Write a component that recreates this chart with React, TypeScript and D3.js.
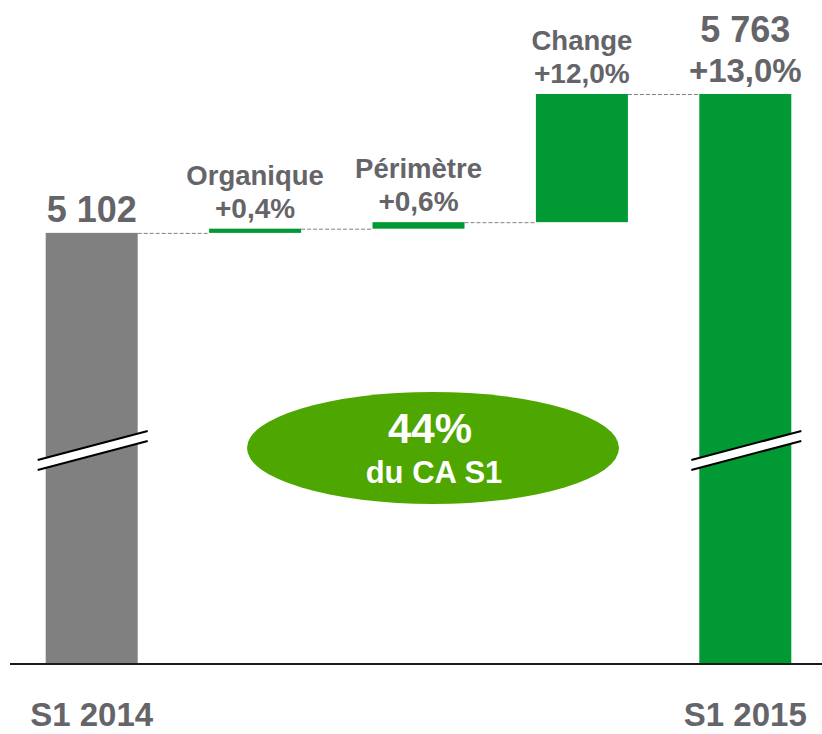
import React from "react";
import * as d3 from "d3";

const categories = ["S1 2014", "Organique", "Périmètre", "Change", "S1 2015"];
const startValue = 5102;
const deltas = [20, 31, 610];
const endValue = 5763;
const topLabels = ["Organique", "Périmètre", "Change"];
const pctLabels = ["+0,4%", "+0,6%", "+12,0%"];
const totalPct = "+13,0%";
const axisLabels = ["S1 2014", "S1 2015"];
const axisFloor = 3050;

const W = 822;
const H = 734;
const TEXT = "#646469";
const GREEN = "#009933";
const GRAY = "#808080";
const FONT = "'Liberation Sans', Arial, sans-serif";

export default function App() {
  const x = d3
    .scaleBand<string>()
    .domain(categories)
    .range([10, 827])
    .paddingInner(0.437)
    .paddingOuter(0.2185);
  const y = d3.scaleLinear().domain([axisFloor, endValue]).range([664, 94]);
  const bw = x.bandwidth();

  const steps: { cat: string; y0: number; y1: number }[] = [];
  let cum = startValue;
  deltas.forEach((d, i) => {
    steps.push({ cat: categories[i + 1], y0: cum, y1: cum + d });
    cum += d;
  });

  const bars = [
    { cat: categories[0], y0: axisFloor, y1: startValue, color: GRAY },
    ...steps.map((s) => ({ ...s, color: GREEN })),
    { cat: categories[4], y0: axisFloor, y1: endValue, color: GREEN },
  ];

  const connectors = bars.slice(0, -1).map((b, i) => ({
    x1: (x(b.cat) as number) + bw,
    x2: x(bars[i + 1].cat) as number,
    yv: b.y1,
  }));

  const breakMark = (cat: string) => {
    const cx = (x(cat) as number) + bw / 2;
    const x1 = cx - 54;
    const x2 = cx + 56;
    const yA1 = 460, yA2 = 431;
    const gap = 10;
    return (
      <g key={"br" + cat}>
        <polygon
          points={`${x1},${yA1} ${x2},${yA2} ${x2},${yA2 + gap} ${x1},${yA1 + gap}`}
          fill="#fff"
        />
        <line x1={x1} y1={yA1} x2={x2} y2={yA2} stroke="#000" strokeWidth={2} />
        <line x1={x1} y1={yA1 + gap} x2={x2} y2={yA2 + gap} stroke="#000" strokeWidth={2} />
      </g>
    );
  };

  const cxOf = (c: string) => (x(c) as number) + bw / 2;
  const fmt = (v: number) => d3.format(",")(v).replace(/,/g, " ");

  return (
    <svg
      width={W}
      height={H}
      style={{ position: "absolute", left: 0, top: 0, display: "block" }}
      fontFamily={FONT}
      fontWeight="bold"
    >
      <rect width={W} height={H} fill="#fff" />
      {bars.map((b) => (
        <rect
          key={b.cat}
          x={x(b.cat)}
          y={y(Math.max(b.y0, b.y1))}
          width={bw}
          height={Math.abs(y(b.y0) - y(b.y1))}
          fill={b.color}
        />
      ))}
      {connectors.map((c, i) => (
        <line
          key={i}
          x1={c.x1}
          x2={c.x2}
          y1={y(c.yv) + 0.5}
          y2={y(c.yv) + 0.5}
          stroke={GRAY}
          strokeWidth={1}
          strokeDasharray="4,2"
        />
      ))}
      {breakMark(categories[0])}
      {breakMark(categories[4])}
      <line x1={10} x2={822} y1={664} y2={664} stroke="#1a1a1a" strokeWidth={2} />

      <text x={cxOf(categories[0])} y={222} textAnchor="middle" fontSize={36} fill={TEXT}>
        {fmt(startValue)}
      </text>
      {steps.map((s, i) => (
        <g key={"lbl" + i}>
          <text
            x={cxOf(s.cat)}
            y={y(s.y1) - 44}
            textAnchor="middle"
            fontSize={27.5}
            fill={TEXT}
          >
            {topLabels[i]}
          </text>
          <text
            x={cxOf(s.cat)}
            y={y(s.y1) - 11}
            textAnchor="middle"
            fontSize={28}
            fill={TEXT}
          >
            {pctLabels[i]}
          </text>
        </g>
      ))}
      <text x={cxOf(categories[4])} y={42} textAnchor="middle" fontSize={36} fill={TEXT}>
        {fmt(endValue)}
      </text>
      <text x={cxOf(categories[4])} y={82} textAnchor="middle" fontSize={33} fill={TEXT}>
        {totalPct}
      </text>

      <text x={cxOf(categories[0])} y={726} textAnchor="middle" fontSize={33} fill={TEXT}>
        {axisLabels[0]}
      </text>
      <text x={cxOf(categories[4])} y={726} textAnchor="middle" fontSize={33} fill={TEXT}>
        {axisLabels[1]}
      </text>

      <ellipse cx={433} cy={448} rx={186} ry={56} fill="#4ea700" />
      <text x={430} y={443} textAnchor="middle" fontSize={42} fill="#fff">
        44%
      </text>
      <text x={434} y={483} textAnchor="middle" fontSize={31} fill="#fff">
        du CA S1
      </text>
    </svg>
  );
}
